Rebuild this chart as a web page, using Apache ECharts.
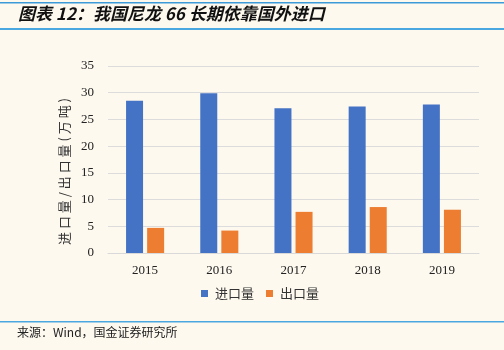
<!DOCTYPE html>
<html>
<head>
<meta charset="utf-8">
<script src="https://cdn.jsdelivr.net/npm/echarts@6/dist/echarts.min.js"></script>
<style>
  html, body { margin: 0; padding: 0; background: #fdf9ef; }
  #chart { width: 504px; height: 350px; }
</style>
</head>
<body>
<div id="chart"></div>
<script>
// Nylon 66 trade volume, 10k tonnes
const years = ['2015', '2016', '2017', '2018', '2019'];
const importVol = [28.5, 29.9, 27.1, 27.4, 27.8];
const exportVol = [4.7, 4.2, 7.7, 8.6, 8.1];
const seriesNames = ['进口量', '出口量'];
const yAxisTitle = '进 口 量 / 出 口 量 ( 万 吨 )';

const chart = echarts.init(document.getElementById('chart'));
const cjk = '"Noto Sans CJK SC", sans-serif';
const serif = '"Liberation Serif", "DejaVu Serif", serif';

chart.setOption({
  backgroundColor: '#fdf9ef',
  animation: false,
  graphic: [
    { type: 'rect', shape: { x: 0, y: 2, width: 504, height: 1.5 }, style: { fill: '#3d9ad8' } },
    { type: 'rect', shape: { x: 0, y: 28, width: 504, height: 2 }, style: { fill: '#4aa7df' } },
    { type: 'rect', shape: { x: 0, y: 321, width: 504, height: 1.5 }, style: { fill: '#4aa7df' } },
    {
      type: 'text', left: 18, top: 5,
      style: {
        text: '图表 12：我国尼龙 66 长期依靠国外进口',
        font: 'italic bold 17px ' + cjk, fill: '#111'
      }
    },
    {
      type: 'text', left: 17, top: 326,
      style: { text: '来源：Wind，国金证券研究所', font: '12px ' + cjk, fill: '#222' }
    }
  ],
  grid: { left: 108, right: 25, top: 66, bottom: 97, containLabel: false },
  legend: {
    data: seriesNames,
    bottom: 45,
    left: 196,
    itemWidth: 7, itemHeight: 7, itemGap: 12,
    icon: 'rect',
    textStyle: { fontFamily: cjk, fontSize: 13, color: '#333', padding: [0, 0, 0, 2] }
  },
  xAxis: {
    type: 'category',
    data: years,
    axisLine: { show: true, lineStyle: { color: '#d9d9d9', width: 1 } },
    axisTick: { show: false },
    axisLabel: { fontFamily: serif, fontSize: 13, color: '#222', margin: 11 }
  },
  yAxis: {
    type: 'value',
    min: 0, max: 35, interval: 5,
    name: yAxisTitle,
    nameLocation: 'middle',
    nameGap: 36,
    nameRotate: 90,
    nameTextStyle: { fontFamily: cjk, fontSize: 13, color: '#333', padding: [0, 24, 0, 0] },
    axisLine: { show: false },
    axisTick: { show: false },
    axisLabel: { fontFamily: serif, fontSize: 13, color: '#222', margin: 14 },
    splitLine: { lineStyle: { color: '#dcdcdc', width: 1 } }
  },
  series: [
    {
      name: seriesNames[0], type: 'bar', data: importVol,
      barWidth: 17, barGap: '24%',
      itemStyle: { color: '#4472c4' }
    },
    {
      name: seriesNames[1], type: 'bar', data: exportVol,
      barWidth: 17,
      itemStyle: { color: '#ed7d31' }
    }
  ]
});
</script>
</body>
</html>
